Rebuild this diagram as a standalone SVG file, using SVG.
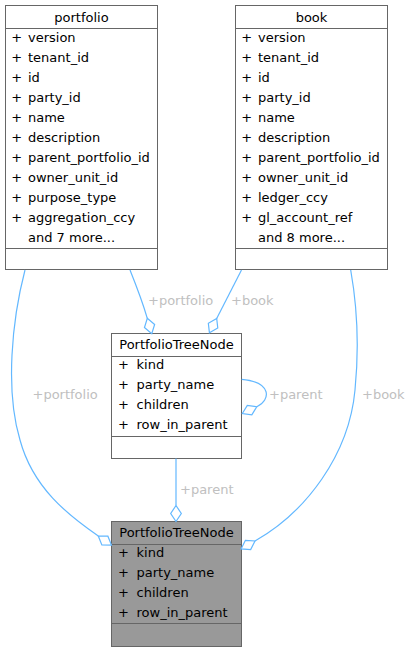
<svg xmlns="http://www.w3.org/2000/svg" width="411" height="652" viewBox="0 0 411 652">
<defs>
<style>
.box{fill:#ffffff;stroke:#666666;stroke-width:1}
.boxg{fill:#999999;stroke:#666666;stroke-width:1}
.sep{stroke:#666666;stroke-width:1;fill:none}
.t{font-family:"DejaVu Sans",sans-serif;font-size:13px;fill:#000000}
.h{text-anchor:middle}
.e{fill:none;stroke:#63b8ff;stroke-width:1.2;marker-end:url(#od)}
.l{font-family:"DejaVu Sans",sans-serif;font-size:13px;fill:#c0c0c0}
</style>
<marker id="od" markerUnits="userSpaceOnUse" markerWidth="20" markerHeight="14" refX="0" refY="0" viewBox="-2 -7 20 14" orient="auto" overflow="visible">
<path d="M0,0 L8,-5.3 L16,0 L8,5.3 Z" fill="#ffffff" stroke="#63b8ff" stroke-width="1.2"/>
</marker>
</defs>
<rect width="411" height="652" fill="#ffffff"/>

<g id="portfolio">
<rect class="box" x="5.5" y="5.5" width="152" height="264"/>
<line class="sep" x1="5.5" y1="28.5" x2="157.5" y2="28.5"/>
<line class="sep" x1="5.5" y1="248.5" x2="157.5" y2="248.5"/>
<text class="t h" x="81.5" y="21.5">portfolio</text>
<text class="t"><tspan x="11.2" y="42">+</tspan><tspan x="28" y="42">version</tspan></text>
<text class="t"><tspan x="11.2" y="62">+</tspan><tspan x="28" y="62">tenant_id</tspan></text>
<text class="t"><tspan x="11.2" y="82">+</tspan><tspan x="28" y="82">id</tspan></text>
<text class="t"><tspan x="11.2" y="102">+</tspan><tspan x="28" y="102">party_id</tspan></text>
<text class="t"><tspan x="11.2" y="122">+</tspan><tspan x="28" y="122">name</tspan></text>
<text class="t"><tspan x="11.2" y="142">+</tspan><tspan x="28" y="142">description</tspan></text>
<text class="t"><tspan x="11.2" y="162">+</tspan><tspan x="28" y="162">parent_portfolio_id</tspan></text>
<text class="t"><tspan x="11.2" y="182">+</tspan><tspan x="28" y="182">owner_unit_id</tspan></text>
<text class="t"><tspan x="11.2" y="202">+</tspan><tspan x="28" y="202">purpose_type</tspan></text>
<text class="t"><tspan x="11.2" y="222">+</tspan><tspan x="28" y="222">aggregation_ccy</tspan></text>
<text class="t" x="28" y="242">and 7 more...</text>
</g>

<g id="book">
<rect class="box" x="235.5" y="5.5" width="152" height="264"/>
<line class="sep" x1="235.5" y1="28.5" x2="387.5" y2="28.5"/>
<line class="sep" x1="235.5" y1="248.5" x2="387.5" y2="248.5"/>
<text class="t h" x="311.5" y="21.5">book</text>
<text class="t"><tspan x="241.2" y="42">+</tspan><tspan x="258" y="42">version</tspan></text>
<text class="t"><tspan x="241.2" y="62">+</tspan><tspan x="258" y="62">tenant_id</tspan></text>
<text class="t"><tspan x="241.2" y="82">+</tspan><tspan x="258" y="82">id</tspan></text>
<text class="t"><tspan x="241.2" y="102">+</tspan><tspan x="258" y="102">party_id</tspan></text>
<text class="t"><tspan x="241.2" y="122">+</tspan><tspan x="258" y="122">name</tspan></text>
<text class="t"><tspan x="241.2" y="142">+</tspan><tspan x="258" y="142">description</tspan></text>
<text class="t"><tspan x="241.2" y="162">+</tspan><tspan x="258" y="162">parent_portfolio_id</tspan></text>
<text class="t"><tspan x="241.2" y="182">+</tspan><tspan x="258" y="182">owner_unit_id</tspan></text>
<text class="t"><tspan x="241.2" y="202">+</tspan><tspan x="258" y="202">ledger_ccy</tspan></text>
<text class="t"><tspan x="241.2" y="222">+</tspan><tspan x="258" y="222">gl_account_ref</tspan></text>
<text class="t" x="258" y="242">and 8 more...</text>
</g>

<g id="node_mid">
<rect class="box" x="111.5" y="333.5" width="130" height="125"/>
<line class="sep" x1="111.5" y1="356.5" x2="241.5" y2="356.5"/>
<line class="sep" x1="111.5" y1="436.5" x2="241.5" y2="436.5"/>
<text class="t h" x="176.5" y="349">PortfolioTreeNode</text>
<text class="t"><tspan x="118" y="369">+</tspan><tspan x="136.5" y="369">kind</tspan></text>
<text class="t"><tspan x="118" y="389">+</tspan><tspan x="136.5" y="389">party_name</tspan></text>
<text class="t"><tspan x="118" y="409">+</tspan><tspan x="136.5" y="409">children</tspan></text>
<text class="t"><tspan x="118" y="429">+</tspan><tspan x="136.5" y="429">row_in_parent</tspan></text>
</g>

<g id="node_main">
<rect class="boxg" x="111.5" y="521.5" width="130" height="125"/>
<line class="sep" x1="111.5" y1="544.5" x2="241.5" y2="544.5"/>
<line class="sep" x1="111.5" y1="623.5" x2="241.5" y2="623.5"/>
<text class="t h" x="176.5" y="537">PortfolioTreeNode</text>
<text class="t"><tspan x="118" y="557">+</tspan><tspan x="136.5" y="557">kind</tspan></text>
<text class="t"><tspan x="118" y="577">+</tspan><tspan x="136.5" y="577">party_name</tspan></text>
<text class="t"><tspan x="118" y="597">+</tspan><tspan x="136.5" y="597">children</tspan></text>
<text class="t"><tspan x="118" y="617">+</tspan><tspan x="136.5" y="617">row_in_parent</tspan></text>
</g>

<g id="connectors">
<path class="e" d="M130,270 C138,290 144,307 147.3,318.3"/>
<path class="e" d="M241.5,270 L216.7,318.5"/>
<path class="e" d="M241.7,379.3 C272,382 271,400 256.8,406.7"/>
<path class="e" d="M176,458.5 L176,505.5"/>
<path class="e" d="M25,270 C12,320 5,390 20,440 C33,488 68,515 98.3,536"/>
<path class="e" d="M350.7,270 C356,300 360,340 355,390 C349,455 306,512 255,541"/>
<text class="l" x="148" y="305">+portfolio</text>
<text class="l" x="231" y="305">+book</text>
<text class="l" x="269" y="399">+parent</text>
<text class="l" x="362" y="399">+book</text>
<text class="l" x="180" y="493.5">+parent</text>
<text class="l" x="32.5" y="399">+portfolio</text>
</g>
</svg>
